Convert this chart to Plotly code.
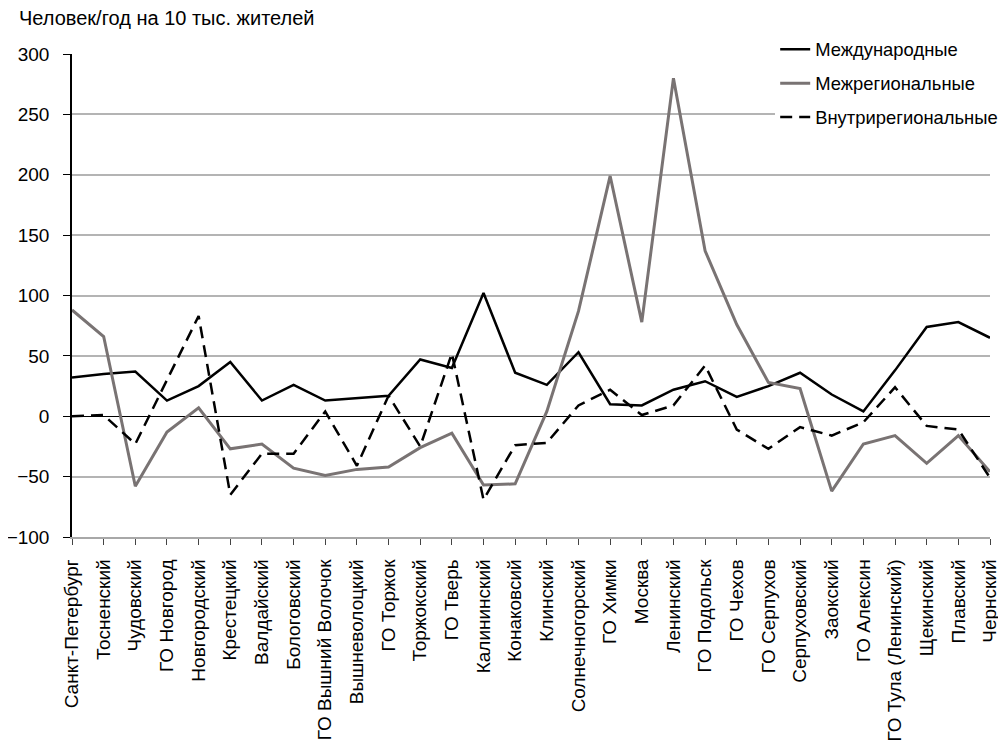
import plotly.graph_objects as go

categories = [
    "Санкт-Петербург", "Тосненский", "Чудовский", "ГО Новгород", "Новгородский",
    "Крестецкий", "Валдайский", "Бологовский", "ГО Вышний Волочок", "Вышневолоцкий",
    "ГО Торжок", "Торжокский", "ГО Тверь", "Калининский", "Конаковсий",
    "Клинский", "Солнечногорский", "ГО Химки", "Москва", "Ленинский",
    "ГО Подольск", "ГО Чехов", "ГО Серпухов", "Серпуховский", "Заокский",
    "ГО Алексин", "ГО Тула (Ленинский)", "Щекинский", "Плавский", "Чернский",
]

international = [
    32, 35, 37, 13, 25, 45, 13, 26, 13, 15,
    17, 47, 40, 102, 36, 26, 53, 10, 9, 22,
    29, 16, 25, 36, 18, 4, 38, 74, 78, 65,
]
interregional = [
    88, 66, -58, -13, 7, -27, -23, -43, -49, -44,
    -42, -26, -14, -57, -56, 4, 87, 199, 78, 280,
    137, 76, 28, 23, -62, -23, -16, -39, -16, -46,
]
intraregional = [
    0, 1, -23, 30, 83, -65, -31, -31, 4, -41,
    17, -25, 52, -69, -24, -22, 9, 22, 1, 9,
    42, -11, -27, -9, -16, -5, 24, -8, -11, -51,
]

FONT = "Liberation Sans, Arial, sans-serif"

fig = go.Figure()
fig.add_trace(go.Scatter(
    x=categories, y=international, mode="lines", name="Международные",
    legendgroup="a", line={"color": "#000000", "width": 2.5},
))
fig.add_trace(go.Scatter(
    x=categories, y=interregional, mode="lines", name="Межрегиональные",
    legendgroup="b", line={"color": "#797373", "width": 3},
))
fig.add_trace(go.Scatter(
    x=categories, y=intraregional, mode="lines", name="Внутрирегиональные",
    legendgroup="c", line={"color": "#000000", "width": 2.5, "dash": "12px,7px"},
))

# страница сдвигает график на 8px (отступ body), поэтому поля уменьшены;
# autoexpand выключен, чтобы легенда и подписи не сжимали область графика
fig.update_layout(
    width=998,
    height=733,
    margin={"l": 64, "r": 16, "t": 46, "b": 204, "autoexpand": False},
    plot_bgcolor="white",
    paper_bgcolor="white",
    font={"family": FONT, "size": 18, "color": "#000000"},
    showlegend=True,
    legend={
        "x": 0.766, "y": 1.048, "xanchor": "left", "yanchor": "top",
        "bgcolor": "white", "font": {"size": 18.4},
        "tracegroupgap": 7,
    },
    annotations=[{
        "text": "Человек/год на 10 тыс. жителей",
        "xref": "paper", "yref": "paper", "x": -0.0594, "y": 1.0745,
        "xanchor": "left", "yanchor": "middle", "showarrow": False,
        "font": {"size": 20},
    }],
)
fig.update_xaxes(
    type="category",
    range=[0, len(categories) - 1],
    tickangle=-90,
    ticks="outside",
    ticklen=6,
    tickcolor="#444444",
    ticklabelstandoff=7,
    showline=True,
    linecolor="#a8a8a8",
    linewidth=1.5,
    showgrid=False,
    automargin=False,
    tickfont={"size": 19},
)
fig.update_yaxes(
    range=[-100, 300],
    dtick=50,
    ticks="outside",
    ticklen=7,
    tickcolor="#000000",
    ticklabelstandoff=10,
    showline=True,
    linecolor="#000000",
    linewidth=1.5,
    showgrid=True,
    gridcolor="#b4b4b4",
    gridwidth=1.5,
    zeroline=True,
    zerolinecolor="#000000",
    zerolinewidth=1,
    automargin=False,
    tickfont={"size": 19},
)

fig.write_html("out.html")
